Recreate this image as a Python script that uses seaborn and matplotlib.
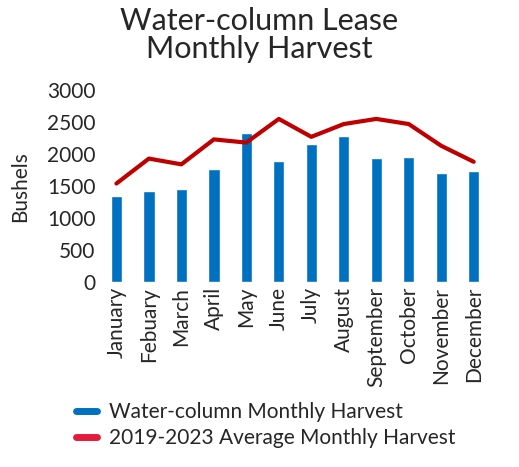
import matplotlib
matplotlib.use("Agg")
import matplotlib.pyplot as plt
import seaborn as sns
import pandas as pd

months = ["January","Febuary","March","April","May","June","July","August","September","October","November","December"]
harvest = [1340,1430,1460,1770,2330,1890,2160,2280,1940,1960,1700,1740]
average = [1540,1930,1840,2230,2180,2550,2270,2470,2550,2470,2130,1880]
yticks = [0,500,1000,1500,2000,2500,3000]

sns.set_theme(style="white")
plt.rcParams['font.family'] = ['Lato', 'DejaVu Sans']

df = pd.DataFrame({"month": months, "harvest": harvest, "average": average})
fig = plt.figure(figsize=(5.19, 4.67), dpi=100)
ax = fig.add_axes([0.193, 0.396, 0.751, 0.411])
sns.barplot(data=df, x="month", y="harvest", color="#0070C0", width=0.35, ax=ax, saturation=1)
sns.lineplot(x=list(range(len(months))), y=average, color="#C00000", linewidth=3, ax=ax)
ax.set_ylim(0, 3000)
ax.set_yticks(yticks)
ax.set_xlim(-0.5, 11.5)
ax.set_xticks(range(len(months)))
ax.set_xticklabels(months, rotation=90, fontsize=15)
ax.tick_params(axis='y', labelsize=15, length=0)
ax.tick_params(axis='x', length=0)
ax.set_xlabel("")
ax.set_ylabel("Bushels", fontsize=15, labelpad=12)
for s in ax.spines.values():
    s.set_visible(False)
fig.text(0.5, 0.985, "Water-column Lease\nMonthly Harvest", ha="center", va="top", fontsize=22, linespacing=1.0)
from matplotlib.lines import Line2D
handles = [Line2D([], [], color="#0070C0", lw=5), Line2D([], [], color="#E31C3D", lw=5)]
fig.legend(handles, ["Water-column Monthly Harvest", "2019-2023 Average Monthly Harvest"],
           loc="lower left", bbox_to_anchor=(0.11, 0.0), frameon=False, fontsize=15,
           handlelength=1.0, labelspacing=0.3, handletextpad=0.6)
fig.savefig("out.png", dpi=100)
